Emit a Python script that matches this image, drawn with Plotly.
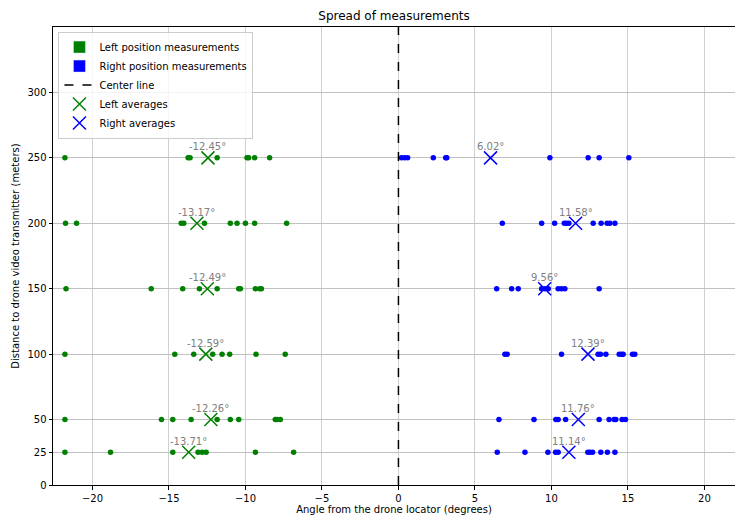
import plotly.graph_objects as go

# ---- data ----
distances = [25, 50, 100, 150, 200, 250]

left_25 = [-21.8, -18.82, -14.75, -13.1, -12.83, -12.57, -9.35, -6.85]
left_50 = [-21.8, -15.49, -14.75, -13.55, -11.85, -10.99, -10.44, -8.05, -7.94, -7.72]
left_100 = [-21.8, -14.62, -13.38, -12.14, -11.53, -11.03, -9.31, -7.4]
left_150 = [-21.73, -16.16, -14.1, -13.01, -11.85, -10.44, -10.33, -9.35, -9.07, -8.96]
left_200 = [-21.76, -21.04, -14.2, -14.03, -12.68, -10.99, -10.55, -10.0, -9.4, -7.31]
left_250 = [-21.8, -13.75, -13.62, -11.85, -9.9, -9.79, -9.4, -8.42]

right_25 = [6.46, 8.27, 9.77, 10.27, 10.44, 12.38, 12.51, 12.69, 13.23, 13.66, 14.15]
right_50 = [6.57, 8.86, 10.29, 10.44, 10.93, 13.12, 13.77, 14.1, 14.21, 14.62, 14.84]
right_100 = [6.96, 7.11, 10.66, 13.05, 13.21, 13.56, 14.43, 14.58, 14.69, 15.3, 15.45]
right_150 = [6.42, 7.4, 7.83, 9.36, 9.57, 9.79, 10.44, 10.66, 10.88, 13.12]
right_200 = [6.79, 9.36, 10.21, 10.84, 10.99, 11.14, 12.73, 13.25, 13.64, 13.82, 14.15]
right_250 = [0.2, 0.4, 0.6, 2.28, 3.09, 3.16, 9.9, 12.4, 13.12, 15.06]

left_avg = [-13.71, -12.26, -12.59, -12.49, -13.17, -12.45]
right_avg = [11.14, 11.76, 12.39, 9.56, 11.58, 6.02]

y_ticks = [0, 25, 50, 100, 150, 200, 250, 300]
x_ticks = [-20, -15, -10, -5, 0, 5, 10, 15, 20]

left_rows = [left_25, left_50, left_100, left_150, left_200, left_250]
right_rows = [right_25, right_50, right_100, right_150, right_200, right_250]

GREEN = "#008000"
BLUE = "#0000ff"
FONT = "DejaVu Sans"

fig = go.Figure()

def flat(rows):
    xs, ys = [], []
    for d, row in zip(distances, rows):
        xs += row
        ys += [d] * len(row)
    return xs, ys

lx, ly = flat(left_rows)
rx, ry = flat(right_rows)

# legend-only patches
fig.add_trace(go.Bar(x=[None], y=[None], marker_color=GREEN, name="Left position measurements",
                     legendgroup="L", showlegend=True))
fig.add_trace(go.Bar(x=[None], y=[None], marker_color=BLUE, name="Right position measurements",
                     legendgroup="R", showlegend=True))

fig.add_trace(go.Scatter(x=lx, y=ly, mode="markers", marker=dict(color=GREEN, size=5.5),
                         legendgroup="L", showlegend=False, hoverinfo="x+y"))
fig.add_trace(go.Scatter(x=rx, y=ry, mode="markers", marker=dict(color=BLUE, size=5.5),
                         legendgroup="R", showlegend=False, hoverinfo="x+y"))

fig.add_trace(go.Scatter(x=[0, 0], y=[0, 350], mode="lines", name="Center line",
                         line=dict(color="black", dash="dash", width=1.5)))

fig.add_trace(go.Scatter(x=left_avg, y=distances, mode="markers", name="Left averages",
                         marker=dict(symbol="x-thin", size=13, line=dict(color=GREEN, width=1.5), color=GREEN)))
fig.add_trace(go.Scatter(x=right_avg, y=distances, mode="markers", name="Right averages",
                         marker=dict(symbol="x-thin", size=13, line=dict(color=BLUE, width=1.5), color=BLUE)))

for a, d in list(zip(left_avg, distances)) + list(zip(right_avg, distances)):
    fig.add_annotation(x=a, y=d, text=f"{a:.2f}°", showarrow=False, yshift=11,
                       font=dict(family=FONT, size=10, color="#808080"))

fig.update_layout(
    width=735, height=520,
    margin=dict(l=53, r=0, t=27, b=35),
    plot_bgcolor="white", paper_bgcolor="white",
    font=dict(family=FONT, size=10, color="black"),
    title=dict(text="Spread of measurements", x=0.5, xref="paper", y=1 - 16 / 520, yref="container",
               yanchor="middle", xanchor="center", font=dict(size=12, family=FONT, color="black")),
    showlegend=True,
    legend=dict(x=0.008, y=0.99, xanchor="left", yanchor="top", bgcolor="rgba(255,255,255,0.8)",
                bordercolor="#cccccc", borderwidth=1, font=dict(size=10, family=FONT), tracegroupgap=0),
    barmode="overlay",
)
fig.update_xaxes(range=[-22.58, 22.0], tickvals=x_ticks, showgrid=True, gridcolor="#d0d0d0", gridwidth=1,
                 zeroline=False, showline=True, linecolor="black", linewidth=1, mirror=True,
                 ticks="outside", ticklen=3.5, tickcolor="black", tickwidth=0.8,
                 title=dict(text="Angle from the drone locator (degrees)", standoff=3, font=dict(size=10)))
fig.update_yaxes(range=[0, 350], tickvals=y_ticks, showgrid=True, gridcolor="#c0c0c0", gridwidth=1,
                 zeroline=False, showline=True, linecolor="black", linewidth=1, mirror=False,
                 ticks="outside", ticklen=3.5, tickcolor="black", tickwidth=0.8,
                 title=dict(text="Distance to drone video transmitter (meters)", standoff=5, font=dict(size=10)))

fig.write_html("out.html")
